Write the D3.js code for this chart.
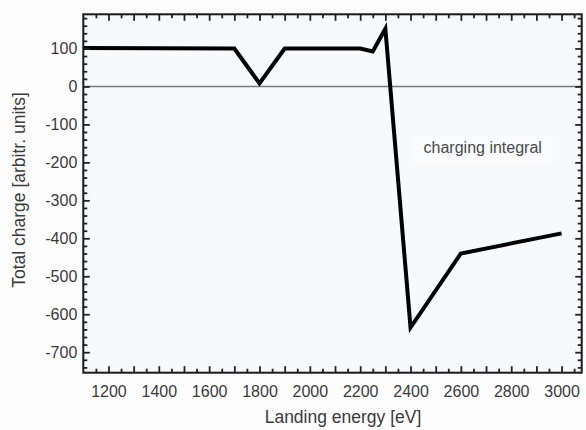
<!DOCTYPE html>
<html>
<head>
<meta charset="utf-8">
<script src="https://cdn.jsdelivr.net/npm/d3@7"></script>
<style>
  html, body { margin: 0; padding: 0; background: #fdfdfd; }
  svg { display: block; }
  text { font-family: "Liberation Sans", Arial, sans-serif; }
</style>
</head>
<body>
<svg id="chart" width="586" height="430"></svg>
<script>
// Landing energy (eV) and total charge (arbitrary units)
const energy = [1100, 1700, 1800, 1900, 2200, 2250, 2300, 2400, 2600, 3000];
const charge = [101, 100, 8, 100, 100, 92, 152, -635, -440, -387];

const xMajorTicks = d3.range(1200, 3001, 100);
const xMinorTicks = d3.range(1150, 3051, 100);
const xLabelTicks = d3.range(1200, 3001, 200);
const yMajorTicks = d3.range(-700, 101, 100);
const yMinorTicks = d3.range(-740, 181, 20).filter(v => v % 100 !== 0);

const annotation = "charging integral";
const xTitle = "Landing energy [eV]";
const yTitle = "Total charge [arbitr. units]";

const W = 586, H = 430;
const m = { left: 83.3, top: 14.3, right: 586 - 581.7, bottom: 430 - 372.7 };
const iw = W - m.left - m.right, ih = H - m.top - m.bottom;

const svg = d3.select("#chart");
const g = svg.append("g").attr("transform", `translate(${m.left},${m.top})`);

const x = d3.scaleLinear().domain([1100, 3080]).range([0, iw]);
const y = d3.scaleLinear().domain([-754, 190]).range([ih, 0]);

// plot area background
g.append("rect").attr("width", iw).attr("height", ih).attr("fill", "#f7fafc");

// zero reference line
g.append("line")
  .attr("x1", 0).attr("x2", iw)
  .attr("y1", y(0)).attr("y2", y(0))
  .attr("stroke", "#7a7a7a").attr("stroke-width", 1.5);

// annotation label with a faint box behind it
const ann = g.append("g").attr("transform", `translate(${482.7 - m.left},${153.3 - m.top})`);
ann.append("rect").attr("x", -70).attr("y", -17).attr("width", 140).attr("height", 28)
  .attr("fill", "#f9fbfd");
ann.append("text").attr("text-anchor", "middle").attr("font-size", 16)
  .attr("fill", "#4a4a4a").text(annotation);

// data line
const line = d3.line().x((d, i) => x(energy[i])).y(d => y(d));
g.append("path").datum(charge)
  .attr("d", line)
  .attr("fill", "none").attr("stroke", "#000").attr("stroke-width", 4)
  .attr("stroke-linejoin", "miter");

// axes with inward ticks
function styleAxis(sel) {
  sel.select(".domain").remove();
  sel.selectAll(".tick line").style("stroke", "#222").style("stroke-width", "1.8px");
  sel.selectAll("text").attr("fill", "#3a3a3a").attr("font-size", 16)
    .attr("font-family", "'Liberation Sans', Arial, sans-serif");
}
const plain = d => String(d);
const MAJOR = -6.5, MINOR = -4;

// bottom
g.append("g").attr("transform", `translate(0,${ih})`)
  .call(d3.axisBottom(x).tickValues(xMinorTicks).tickSize(MINOR).tickFormat(""))
  .call(styleAxis);
g.append("g").attr("transform", `translate(0,${ih})`)
  .call(d3.axisBottom(x).tickValues(xMajorTicks).tickSize(MAJOR).tickPadding(13)
    .tickFormat(d => xLabelTicks.includes(d) ? plain(d) : ""))
  .call(styleAxis);
// top
g.append("g")
  .call(d3.axisTop(x).tickValues(xMinorTicks).tickSize(MINOR).tickFormat(""))
  .call(styleAxis);
g.append("g")
  .call(d3.axisTop(x).tickValues(xMajorTicks).tickSize(MAJOR).tickFormat(""))
  .call(styleAxis);
// left
g.append("g")
  .call(d3.axisLeft(y).tickValues(yMinorTicks).tickSize(MINOR).tickFormat(""))
  .call(styleAxis);
g.append("g")
  .call(d3.axisLeft(y).tickValues(yMajorTicks).tickSize(MAJOR).tickPadding(6)
    .tickFormat(plain))
  .call(styleAxis);
// right
g.append("g").attr("transform", `translate(${iw},0)`)
  .call(d3.axisRight(y).tickValues(yMinorTicks).tickSize(MINOR).tickFormat(""))
  .call(styleAxis);
g.append("g").attr("transform", `translate(${iw},0)`)
  .call(d3.axisRight(y).tickValues(yMajorTicks).tickSize(MAJOR).tickFormat(""))
  .call(styleAxis);

// frame
g.append("rect").attr("width", iw).attr("height", ih)
  .attr("fill", "none").attr("stroke", "#1a1a1a").attr("stroke-width", 2);

// axis titles
svg.append("text")
  .attr("x", 343).attr("y", 423)
  .attr("text-anchor", "middle").attr("font-size", 17.5).attr("fill", "#3a3a3a")
  .text(xTitle);
svg.append("text")
  .attr("transform", "translate(25,190) rotate(-90)")
  .attr("text-anchor", "middle").attr("font-size", 17.5).attr("fill", "#3a3a3a")
  .text(yTitle);
</script>
</body>
</html>
